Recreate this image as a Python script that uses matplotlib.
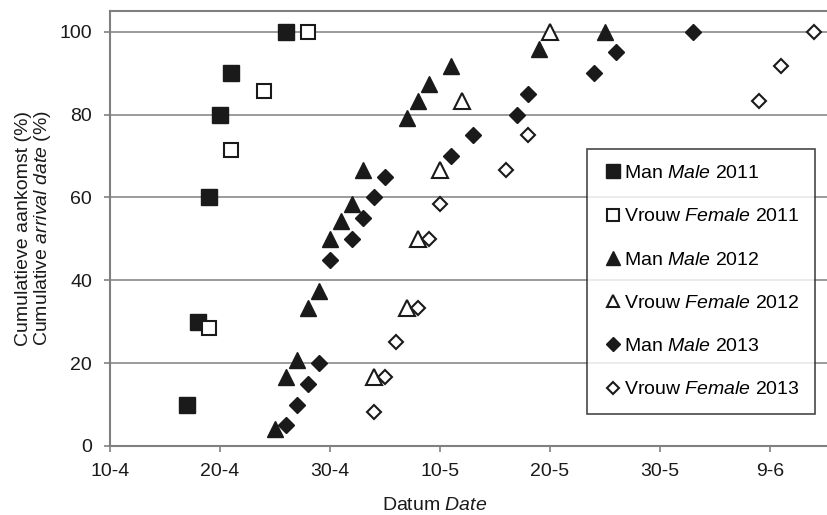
import matplotlib
matplotlib.use("Agg")
import matplotlib.pyplot as plt

plt.rcParams['font.family'] = 'Liberation Sans'
plt.rcParams['mathtext.fontset'] = 'custom'
plt.rcParams['mathtext.rm'] = 'Liberation Sans'
plt.rcParams['mathtext.it'] = 'Liberation Sans:italic'

# x = day number counted from 1 April (so 1 May = 31, 1 June = 62)
man_2011_x = [17, 18, 19, 20, 21, 26]
man_2011_y = [10, 30, 60, 80, 90, 100]
vrouw_2011_x = [19, 21, 24, 28]
vrouw_2011_y = [28.6, 71.4, 85.7, 100]

man_2012_x = [25, 26, 27, 28, 29, 30, 31, 32, 33, 37, 38, 39, 41, 49, 55]
man_2012_y = [4.2, 16.7, 20.8, 33.3, 37.5, 50, 54.2, 58.3, 66.7, 79.2, 83.3, 87.5, 91.7, 95.8, 100]
vrouw_2012_x = [34, 37, 38, 40, 42, 50]
vrouw_2012_y = [16.7, 33.3, 50, 66.7, 83.3, 100]

man_2013_x = [26, 27, 28, 29, 30, 32, 33, 34, 35, 41, 43, 47, 48, 54, 56, 63]
man_2013_y = [5, 10, 15, 20, 45, 50, 55, 60, 65, 70, 75, 80, 85, 90, 95, 100]
vrouw_2013_x = [34, 35, 36, 38, 39, 40, 46, 48, 69, 71, 74]
vrouw_2013_y = [8.3, 16.7, 25, 33.3, 50, 58.3, 66.7, 75, 83.3, 91.7, 100]

tick_pos = [10, 20, 30, 40, 50, 60, 70]
tick_labels = ['10-4', '20-4', '30-4', '10-5', '20-5', '30-5', '9-6']

fig = plt.figure(figsize=(8.28, 5.15), dpi=100)
ax = fig.add_axes([110 / 828, 1 - 446 / 515, 718 / 828, 435 / 515])

dark = '#1a1a1a'
ax.plot(man_2011_x, man_2011_y, 's', ms=11.3, color=dark, mec=dark,
        label='Man $\\mathit{Male}$ 2011', zorder=3)
ax.plot(vrouw_2011_x, vrouw_2011_y, 's', ms=10.5, mfc='white', mec=dark, mew=1.5,
        label='Vrouw $\\mathit{Female}$ 2011', zorder=3)
ax.plot(man_2012_x, man_2012_y, '^', ms=12, color=dark, mec=dark,
        label='Man $\\mathit{Male}$ 2012', zorder=3)
ax.plot(vrouw_2012_x, vrouw_2012_y, '^', ms=11, mfc='white', mec=dark, mew=1.5,
        label='Vrouw $\\mathit{Female}$ 2012', zorder=3)
ax.plot(man_2013_x, man_2013_y, 'D', ms=8.2, color=dark, mec=dark,
        label='Man $\\mathit{Male}$ 2013', zorder=3)
ax.plot(vrouw_2013_x, vrouw_2013_y, 'D', ms=7.6, mfc='white', mec=dark, mew=1.5,
        label='Vrouw $\\mathit{Female}$ 2013', zorder=3)

ax.set_xlim(10, 75.27)
ax.set_ylim(0, 105)
ax.set_xticks(tick_pos)
ax.set_xticklabels(tick_labels)
ax.set_yticks([0, 20, 40, 60, 80, 100])

ax.yaxis.grid(True, color='#8a8a8a', lw=1.2)
ax.set_axisbelow(True)
for s in ['left', 'bottom', 'top']:
    ax.spines[s].set_color('#808080')
    ax.spines[s].set_linewidth(1.5)
ax.spines['right'].set_visible(False)

ax.tick_params(axis='both', labelsize=14, colors='#808080', labelcolor='#1a1a1a',
               length=4, width=1.2)
ax.tick_params(axis='x', pad=8)
ax.tick_params(axis='y', pad=9)

ax.set_xlabel('Datum $\\mathit{Date}$', fontsize=14, color='#1a1a1a')
ax.xaxis.set_label_coords(0.4526, -0.118)
ax.set_ylabel('Cumulatieve aankomst (%)\nCumulative $\\mathit{arrival\\ date}$ (%)',
              fontsize=14, color='#1a1a1a', linespacing=1.05)
ax.yaxis.set_label_coords(-0.079, 0.5)

leg = ax.legend(loc='upper left', bbox_to_anchor=(0.664, 0.683), borderaxespad=0,
                fontsize=14, frameon=True, fancybox=False, edgecolor='#1a1a1a',
                borderpad=0.8, handlelength=1.1, handletextpad=0.0,
                labelspacing=1.32, markerscale=0.85, numpoints=1)
leg.get_frame().set_linewidth(1.2)

fig.savefig('out.png', dpi=100)
